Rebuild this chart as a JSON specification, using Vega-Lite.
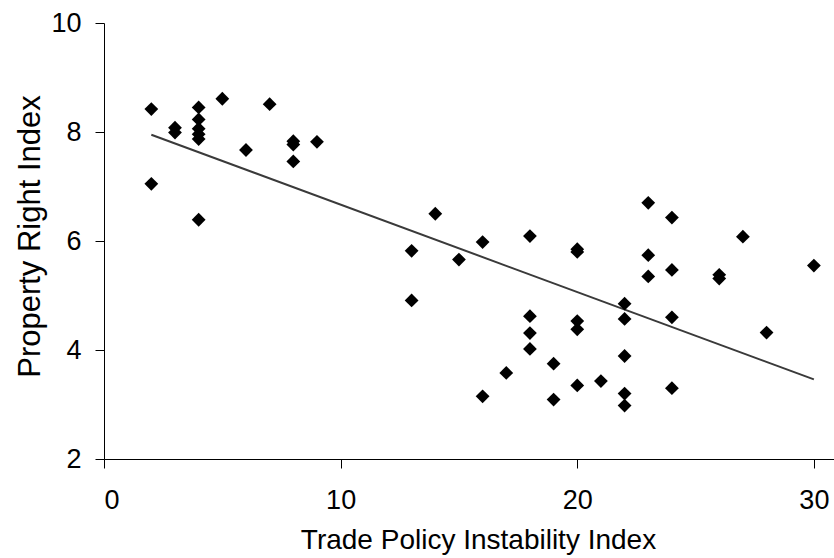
{
  "$schema": "https://vega.github.io/schema/vega-lite/v6.json",
  "width": 730,
  "height": 436,
  "autosize": {"type": "none"},
  "padding": {"left": 104, "top": 23, "right": 0, "bottom": 99},
  "background": "white",
  "config": {
    "view": {"stroke": null},
    "font": "Liberation Sans",
    "axis": {
      "grid": false,
      "domainColor": "black",
      "tickColor": "black",
      "labelColor": "black",
      "titleColor": "black",
      "labelFont": "Liberation Sans",
      "titleFont": "Liberation Sans",
      "labelFontSize": 27,
      "titleFontWeight": "normal",
      "tickSize": 9
    }
  },
  "datasets": {
    "points": [
      {"tpi": 2, "pri": 8.42}, {"tpi": 2, "pri": 7.05},
      {"tpi": 3, "pri": 8.08}, {"tpi": 3, "pri": 7.99},
      {"tpi": 4, "pri": 8.45}, {"tpi": 4, "pri": 8.23}, {"tpi": 4, "pri": 8.06}, {"tpi": 4, "pri": 7.96}, {"tpi": 4, "pri": 7.87}, {"tpi": 4, "pri": 6.39},
      {"tpi": 5, "pri": 8.61},
      {"tpi": 6, "pri": 7.67},
      {"tpi": 7, "pri": 8.51},
      {"tpi": 8, "pri": 7.83}, {"tpi": 8, "pri": 7.77}, {"tpi": 8, "pri": 7.46},
      {"tpi": 9, "pri": 7.82},
      {"tpi": 13, "pri": 5.82}, {"tpi": 13, "pri": 4.91},
      {"tpi": 14, "pri": 6.5},
      {"tpi": 15, "pri": 5.66},
      {"tpi": 16, "pri": 5.98}, {"tpi": 16, "pri": 3.15},
      {"tpi": 17, "pri": 3.58},
      {"tpi": 18, "pri": 6.09}, {"tpi": 18, "pri": 4.62}, {"tpi": 18, "pri": 4.31}, {"tpi": 18, "pri": 4.02},
      {"tpi": 19, "pri": 3.75}, {"tpi": 19, "pri": 3.09},
      {"tpi": 20, "pri": 5.85}, {"tpi": 20, "pri": 5.8}, {"tpi": 20, "pri": 4.53}, {"tpi": 20, "pri": 4.38}, {"tpi": 20, "pri": 3.35},
      {"tpi": 21, "pri": 3.43},
      {"tpi": 22, "pri": 4.85}, {"tpi": 22, "pri": 4.57}, {"tpi": 22, "pri": 3.89}, {"tpi": 22, "pri": 3.2}, {"tpi": 22, "pri": 2.98},
      {"tpi": 23, "pri": 6.7}, {"tpi": 23, "pri": 5.74}, {"tpi": 23, "pri": 5.35},
      {"tpi": 24, "pri": 6.43}, {"tpi": 24, "pri": 5.47}, {"tpi": 24, "pri": 4.6}, {"tpi": 24, "pri": 3.3},
      {"tpi": 26, "pri": 5.38}, {"tpi": 26, "pri": 5.31},
      {"tpi": 27, "pri": 6.08},
      {"tpi": 28, "pri": 4.32},
      {"tpi": 30, "pri": 5.55}
    ],
    "fit": [
      {"tpi": 2, "pri": 7.95},
      {"tpi": 30, "pri": 3.46}
    ]
  },
  "encoding": {
    "x": {
      "field": "tpi",
      "type": "quantitative",
      "scale": {"domain": [0, 30.85], "nice": false, "zero": false},
      "axis": {"values": [0, 10, 20, 30], "title": "Trade Policy Instability Index", "titleFontSize": 28, "labelPadding": 19, "titleX": 374, "titleY": 67}
    },
    "y": {
      "field": "pri",
      "type": "quantitative",
      "scale": {"domain": [2, 10], "nice": false, "zero": false},
      "axis": {"values": [2, 4, 6, 8, 10], "title": "Property Right Index", "titleFontSize": 31, "labelPadding": 14, "titleX": -58, "titleY": 213}
    }
  },
  "layer": [
    {
      "data": {"name": "fit"},
      "mark": {"type": "line", "color": "#3a3a3a", "strokeWidth": 2}
    },
    {
      "data": {"name": "points"},
      "mark": {"type": "point", "shape": "diamond", "filled": true, "color": "black", "opacity": 1, "size": 190}
    }
  ]
}
